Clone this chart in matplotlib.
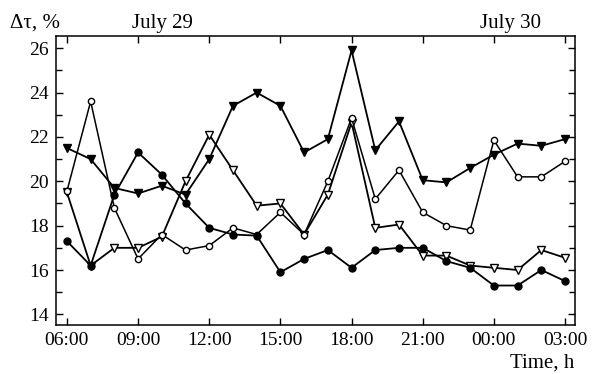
import numpy as np
import matplotlib
matplotlib.use("Agg")
import matplotlib.pyplot as plt
from matplotlib.ticker import MultipleLocator

# hours since 00:00 July 29 (06:00 .. 03:00 next day)
hours = list(range(6, 28))
tick_hours = [6, 9, 12, 15, 18, 21, 24, 27]
tick_labels = ["06:00", "09:00", "12:00", "15:00", "18:00", "21:00", "00:00", "03:00"]

filled_circle = [17.3, 16.2, 19.4, 21.3, 20.3, 19.0, 17.9, 17.6, 17.55, 15.9, 16.5,
                 16.9, 16.1, 16.9, 17.0, 17.0, 16.4, 16.1, 15.3, 15.3, 16.0, 15.5]
open_circle = [19.55, 23.6, 18.8, 16.5, 17.6, 16.9, 17.1, 17.9, 17.6, 18.6, 17.6,
               20.0, 22.85, 19.2, 20.5, 18.6, 18.0, 17.8, 21.85, 20.2, 20.2, 20.9]
filled_tri = [21.5, 21.0, 19.7, 19.45, 19.8, 19.4, 21.0, 23.4, 24.0, 23.4, 21.3,
              21.9, 25.9, 21.4, 22.7, 20.05, 19.95, 20.6, 21.2, 21.7, 21.6, 21.9]
open_tri = [19.5, 16.2, 17.0, 17.0, 17.5, 20.0, 22.1, 20.5, 18.9, 19.0, 17.6,
            19.4, 22.65, 17.9, 18.05, 16.65, 16.65, 16.2, 16.1, 16.0, 16.9, 16.55]

plt.rcParams['font.family'] = ['Liberation Serif', 'DejaVu Serif']

fig = plt.figure(figsize=(5.92, 3.74), dpi=100)
ax = fig.add_axes([0.0946, 0.131, 0.8767, 0.7727])

ax.plot(hours, open_tri, marker='v', mfc='white', mec='black', markersize=5.5,
        markeredgewidth=1.0, color='black', lw=1.3)
ax.plot(hours, open_circle, marker='o', mfc='white', mec='black', markersize=4.5,
        markeredgewidth=1.0, color='black', lw=1.1)
ax.plot(hours, filled_tri, marker='v', mfc='black', mec='black', markersize=6,
        color='black', lw=1.3)
ax.plot(hours, filled_circle, marker='o', mfc='black', mec='black', markersize=5,
        color='black', lw=1.3)

ax.set_xlim(5.54, 27.42)
ax.set_ylim(13.52, 26.55)
ax.set_xticks(tick_hours)
ax.set_xticklabels(tick_labels)
ax.set_yticks([14, 16, 18, 20, 22, 24, 26])
ax.yaxis.set_minor_locator(MultipleLocator(1))
ax.tick_params(which='major', direction='in', top=True, right=True, length=5,
               width=1, labelsize=14, pad=5)
ax.tick_params(which='minor', direction='in', left=True, right=True, length=4, width=1)
for s in ax.spines.values():
    s.set_linewidth(1.1)

fig.text(0.017, 0.938, "Δτ, %", fontsize=15, ha='left', va='center')
fig.text(0.274, 0.938, "July 29", fontsize=15, ha='center', va='center')
fig.text(0.863, 0.938, "July 30", fontsize=15, ha='center', va='center')
fig.text(0.971, 0.03, "Time, h", fontsize=15, ha='right', va='center')

fig.savefig("out.png", dpi=100)
